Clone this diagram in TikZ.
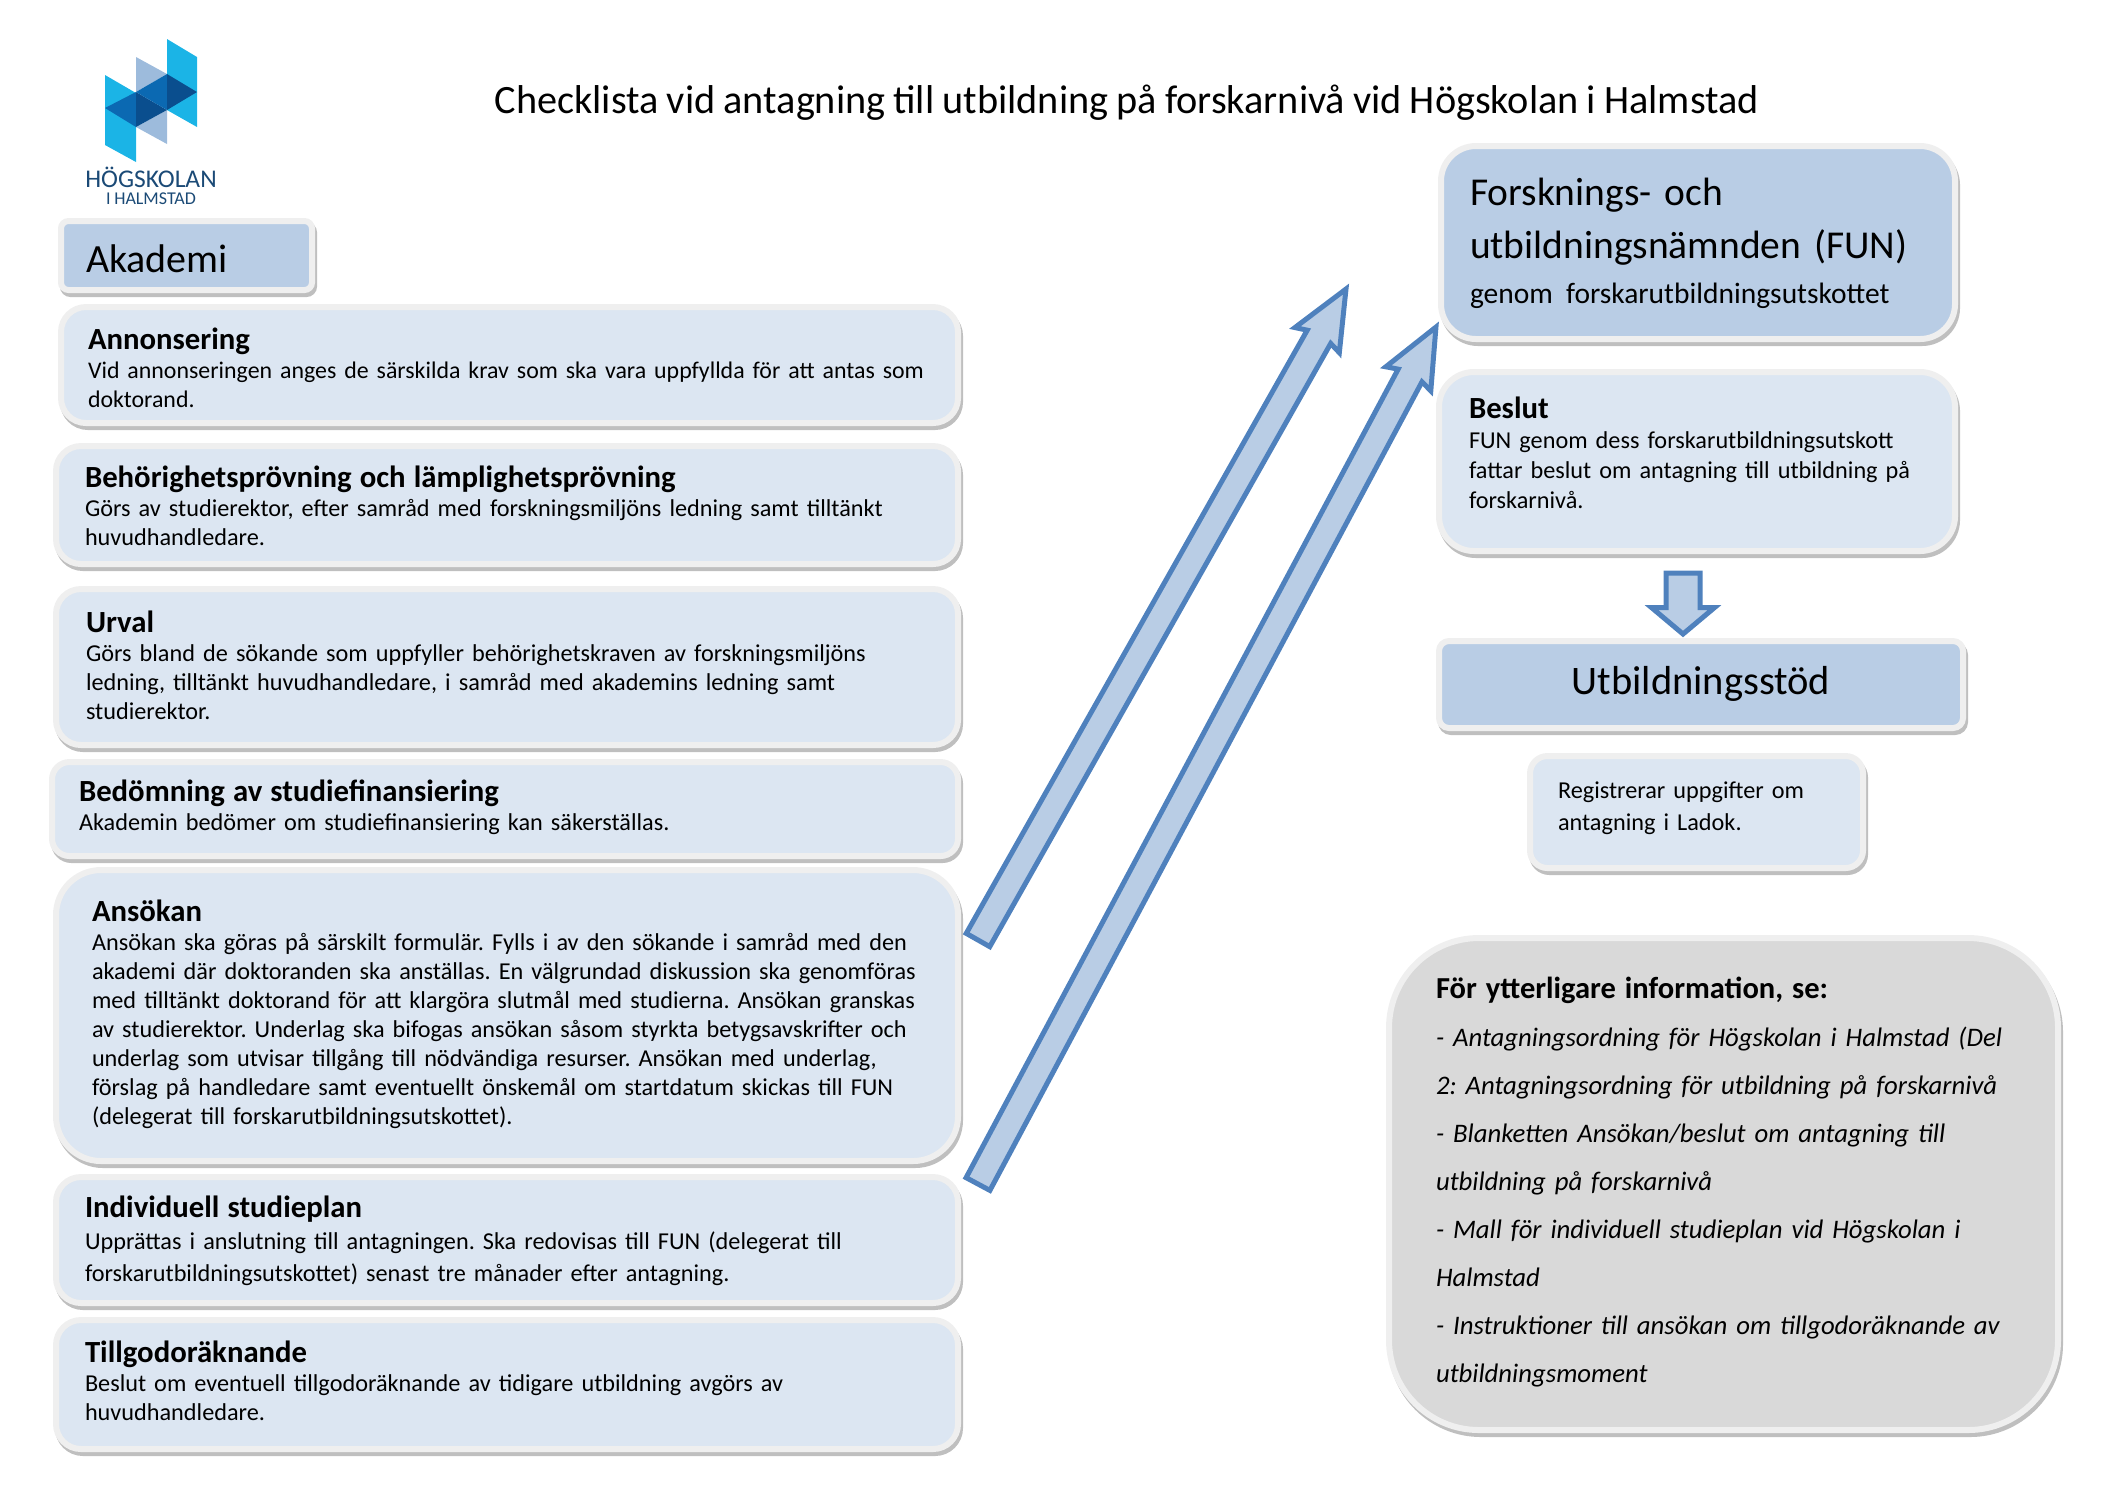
\documentclass[tikz,border=0pt]{standalone}
\usepackage{fontspec}
\setmainfont[WordSpace=0.9]{Carlito}
\usetikzlibrary{calc,shapes.arrows}
\definecolor{palefill}{HTML}{DCE6F2}
\definecolor{midfill}{HTML}{B9CDE5}
\definecolor{arrowline}{HTML}{4F81BD}
\definecolor{rimgray}{HTML}{EFEFEF}
\definecolor{shadegray}{HTML}{BFBFBF}
\definecolor{infofill}{HTML}{D9D9D9}
\definecolor{logocyan}{HTML}{1BB4E6}
\definecolor{logopale}{HTML}{9DBBDC}
\definecolor{logomid}{HTML}{0B69B2}
\definecolor{logodark}{HTML}{0A4E8E}
\definecolor{logotext}{HTML}{1B4A76}
\frenchspacing
\newcommand{\headfont}{\fontsize{12.3}{11.6}\bfseries\selectfont}
\tikzset{
  every node/.style={outer sep=0pt, inner ysep=0pt},
  boxbase/.style={anchor=north west, align=left, draw=rimgray, line width=2.4pt,
    preaction={draw=shadegray, fill=shadegray, transform canvas={xshift=0.8pt, yshift=-1.6pt}}},
  palebox/.style={boxbase, fill=palefill, rounded corners=10pt, font=\fontsize{9.7}{11.6}\selectfont},
  midbox/.style={boxbase, fill=midfill, rounded corners=14pt},
  longarrow/.style={single arrow, draw=arrowline, fill=midfill, line width=2pt, inner sep=0pt,
    inner ysep=4.4pt, minimum width=18.4pt, single arrow head extend=4.8pt,
    single arrow tip angle=47, single arrow head indent=1.5pt},
  downarrow/.style={single arrow, draw=arrowline, fill=midfill, line width=2pt, inner sep=0pt,
    inner ysep=5.8pt, minimum width=23.2pt, single arrow head extend=5.8pt,
    single arrow tip angle=100},
  arrowlink/.style={to path={let \p1=($(\tikztotarget)-(\tikztostart)$), \n1={atan2(\y1,\x1)},
    \n2={veclen(\x1,\y1)} in node[#1, rotate=\n1, minimum height=\n2, anchor=tail] at (\tikztostart) {}}}
}
\begin{document}
\begin{tikzpicture}[x=0.4pt,y=-0.4pt]
\useasboundingbox (0,0) rectangle (2105,1489);

\fill[logocyan] (167,39) -- (197,57) -- (197,127) -- (167,110) -- cycle;
\fill[logocyan] (105,75) -- (136,93) -- (136,162) -- (105,145) -- cycle;
\fill[logopale] (136,57) -- (167,74) -- (136,92) -- cycle;
\fill[logopale] (136,127) -- (167,110) -- (167,144) -- cycle;
\fill[logomid] (105,108) -- (136,92) -- (136,127) -- cycle;
\fill[logodark] (136,92) -- (167,110) -- (136,127) -- cycle;
\fill[logomid] (136,92) -- (167,74) -- (167,110) -- cycle;
\fill[logodark] (167,74) -- (197,92) -- (167,110) -- cycle;
\node[text=logotext, font=\fontsize{10.2}{10}\selectfont, anchor=base] (logoname) at (151,187) {HÖGSKOLAN};
\node[text=logotext, font=\fontsize{7.2}{7}\selectfont, anchor=base] (logocity) at (151,204) {I HALMSTAD};

\node[font=\fontsize{16.1}{18}\selectfont, anchor=base] (title) at (1127,113)
  {Checklista vid antagning till utbildning på forskarnivå vid Högskolan i Halmstad};

\node[midbox, rounded corners=3pt, font=\fontsize{16}{20}\selectfont, inner xsep=10pt, text width=80.4pt,
  text height=20.4pt, text depth=7.2pt] (akademi) at (61,221) {Akademi};

\node[palebox, font=\fontsize{9.55}{11.6}\selectfont, inner xsep=10.8pt, text width=337.2pt, text height=16.8pt, text depth=29.6pt] (annons) at (61,307)
  {{\headfont Annonsering}\\
  Vid annonseringen anges de särskilda krav som ska vara uppfyllda för att antas som\\
  doktorand.};
\node[palebox, inner xsep=11.6pt, text width=337.6pt, text height=16.4pt, text depth=30.8pt] (behorig) at (56,446)
  {{\headfont Behörighetsprövning och lämplighetsprövning}\\
  Görs av studierektor, efter samråd med forskningsmiljöns ledning samt tilltänkt\\
  huvudhandledare.};
\node[palebox, inner xsep=12pt, text width=336.8pt, text height=17.2pt, text depth=45.2pt] (urval) at (56,589)
  {{\headfont Urval}\\
  Görs bland de sökande som uppfyller behörighetskraven av forskningsmiljöns\\
  ledning, tilltänkt huvudhandledare, i samråd med akademins ledning samt\\
  studierektor.};
\node[palebox, rounded corners=7pt, inner xsep=10.8pt, text width=340.8pt, text height=15.6pt, text depth=22pt] (finans) at (52,762)
  {{\headfont Bedömning av studiefinansiering}\\
  Akademin bedömer om studiefinansiering kan säkerställas.};
\node[palebox, rounded corners=18pt, inner xsep=14.4pt, text width=332pt, text height=20.4pt, text depth=96pt] (ansokan) at (56,870)
  {{\headfont Ansökan}\\
  Ansökan ska göras på särskilt formulär. Fylls i av den sökande i samråd med den\\
  akademi där doktoranden ska anställas. En välgrundad diskussion ska genomföras\\
  med tilltänkt doktorand för att klargöra slutmål med studierna. Ansökan granskas\\
  av studierektor. Underlag ska bifogas ansökan såsom styrkta betygsavskrifter och\\
  underlag som utvisar tillgång till nödvändiga resurser. Ansökan med underlag,\\
  förslag på handledare samt eventuellt önskemål om startdatum skickas till FUN\\
  (delegerat till forskarutbildningsutskottet).};
\node[palebox, font=\fontsize{9.7}{12.8}\selectfont, inner xsep=11.6pt, text width=337.6pt, text height=16pt, text depth=34.4pt] (studieplan) at (56,1177)
  {{\headfont Individuell studieplan}\\
  Upprättas i anslutning till antagningen. Ska redovisas till FUN (delegerat till\\
  forskarutbildningsutskottet) senast tre månader efter antagning.};
\node[palebox, inner xsep=11.6pt, text width=337.6pt, text height=16.8pt, text depth=34.8pt] (tillgodo) at (56,1320)
  {{\headfont Tillgodoräknande}\\
  Beslut om eventuell tillgodoräknande av tidigare utbildning avgörs av\\
  huvudhandledare.};

\node[midbox, font=\fontsize{15.8}{21.2}\selectfont, inner xsep=11.6pt, text width=182.4pt, text height=23.6pt, text depth=53.6pt] (fun) at (1441,146)
  {Forsknings- och\\
  utbildningsnämnden (FUN)\\[-3.2pt]
  {\fontsize{11.8}{14}\selectfont genom forskarutbildningsutskottet}};
\node[palebox, font=\fontsize{9.7}{12}\selectfont, rounded corners=14pt, inner xsep=12pt, text width=182.4pt, text height=18.4pt, text depth=53.2pt] (beslut) at (1439,372)
  {{\headfont Beslut}\\
  FUN genom dess forskarutbildningsutskott\\
  fattar beslut om antagning till utbildning på\\
  forskarnivå.};
\node[midbox, rounded corners=4pt, font=\fontsize{16.2}{20}\selectfont, align=center, inner xsep=5pt, text width=199.6pt, text height=21.2pt, text depth=13.6pt] (stod) at (1439,641)
  {Utbildningsstöd};
\node[palebox, font=\fontsize{9.7}{12.8}\selectfont, rounded corners=7pt, inner xsep=11.2pt, text width=110.8pt, text height=16.8pt, text depth=28pt] (ladok) at (1530,756)
  {Registrerar uppgifter om\\
  antagning i Ladok.};
\node[boxbase, fill=infofill, rounded corners=36pt, font=\fontsize{10.7}{19.2}\itshape\selectfont, inner xsep=18.8pt, text width=230pt, text height=24pt, text depth=172.8pt] (info) at (1389,938)
  {{\upshape\bfseries\fontsize{12.2}{19.2}\selectfont För ytterligare information, se:}\\
  - Antagningsordning för Högskolan i Halmstad (Del\\
  2: Antagningsordning för utbildning på forskarnivå\\
  - Blanketten Ansökan/beslut om antagning till\\
  utbildning på forskarnivå\\
  - Mall för individuell studieplan vid Högskolan i\\
  Halmstad\\
  - Instruktioner till ansökan om tillgodoräknande av\\
  utbildningsmoment};

\coordinate (tail1) at (978,940);
\coordinate (tip1) at (1346,289);
\coordinate (tail2) at (978,1184);
\coordinate (tip2) at (1436,327);
\coordinate (taildown) at (1683,573);
\coordinate (tipdown) at (1683,634);
\path[arrowlink=longarrow] (tail1) to (tip1);
\path[arrowlink=longarrow] (tail2) to (tip2);
\path[arrowlink=downarrow] (taildown) to (tipdown);
\end{tikzpicture}
\end{document}
